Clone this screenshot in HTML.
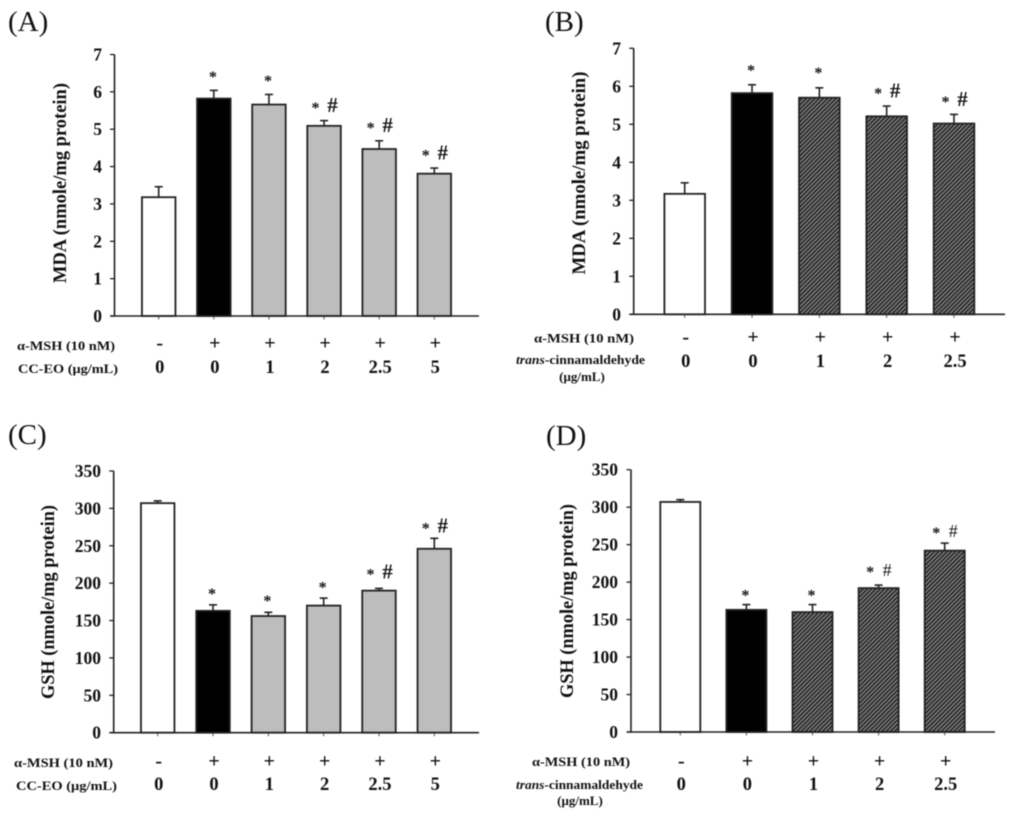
<!DOCTYPE html>
<html lang="en">
<head>
<meta charset="utf-8">
<title>MDA and GSH levels</title>
<style>
html,body{margin:0;padding:0;background:#fff;width:1024px;height:824px;overflow:hidden}
svg{display:block;filter:blur(.4px)}
text{font-family:"Liberation Serif",serif;fill:#111}
.title{font-size:29px;font-weight:400}
.ylab{font-size:18.5px;font-weight:700}
.row{font-size:13px;font-weight:700}
</style>
</head>
<body>
<svg id="figure" xmlns="http://www.w3.org/2000/svg" width="1024" height="824" viewBox="0 0 1024 824">
<defs>
<pattern id="hatch" patternUnits="userSpaceOnUse" width="3" height="3" patternTransform="rotate(-45)">
<rect width="3" height="3" fill="#858585"/>
<rect width="3" height="1.6" fill="#222"/>
</pattern>
</defs>
<rect width="1024" height="824" fill="#fff"/>

<text class="title" x="8" y="31">(A)</text>
<text class="title" x="545" y="31">(B)</text>
<text class="title" x="8" y="444">(C)</text>
<text class="title" x="546" y="445">(D)</text>

<text class="ylab" transform="translate(66,183) rotate(-90)" text-anchor="middle" textLength="200" lengthAdjust="spacingAndGlyphs">MDA (nmole/mg protein)</text>
<text class="ylab" transform="translate(585,173) rotate(-90)" text-anchor="middle" textLength="203" lengthAdjust="spacingAndGlyphs">MDA (nmole/mg protein)</text>
<text class="ylab" transform="translate(54,602) rotate(-90)" text-anchor="middle" textLength="194" lengthAdjust="spacingAndGlyphs">GSH (nmole/mg protein)</text>
<text class="ylab" transform="translate(573,601) rotate(-90)" text-anchor="middle" textLength="194" lengthAdjust="spacingAndGlyphs">GSH (nmole/mg protein)</text>

<text class="row" x="17" y="350" textLength="98" lengthAdjust="spacingAndGlyphs">α-MSH (10 nM)</text>
<text class="row" x="18" y="373" textLength="100" lengthAdjust="spacingAndGlyphs">CC-EO (μg/mL)</text>

<text class="row" x="534" y="342.5" textLength="100" lengthAdjust="spacingAndGlyphs">α-MSH (10 nM)</text>
<text class="row" x="516" y="364" textLength="129" lengthAdjust="spacingAndGlyphs"><tspan font-style="italic">trans</tspan>-cinnamaldehyde</text>
<text class="row" x="582" y="381" text-anchor="middle">(μg/mL)</text>

<text class="row" x="14" y="767" textLength="99" lengthAdjust="spacingAndGlyphs">α-MSH (10 nM)</text>
<text class="row" x="16" y="790" textLength="101" lengthAdjust="spacingAndGlyphs">CC-EO (μg/mL)</text>

<text class="row" x="532" y="766" textLength="98" lengthAdjust="spacingAndGlyphs">α-MSH (10 nM)</text>
<text class="row" x="516" y="789" textLength="127" lengthAdjust="spacingAndGlyphs"><tspan font-style="italic">trans</tspan>-cinnamaldehyde</text>
<text class="row" x="580" y="805" text-anchor="middle">(μg/mL)</text>
</svg>

<script>
// Panel A data
const valuesA = [3.18, 5.82, 5.66, 5.09, 4.47, 3.81];
const errorTopsA = [3.46, 6.04, 5.93, 5.23, 4.69, 3.96];
const starLevelsA = [null, 6.45, 6.34, 5.62, 5.08, 4.35];
const hashFlagsA = [false, false, false, true, true, true];
const mshA = ["-", "+", "+", "+", "+", "+"];
const doseA = ["0", "0", "1", "2", "2.5", "5"];
const ticksA = [0, 1, 2, 3, 4, 5, 6, 7];

// Panel B data
const valuesB = [3.17, 5.82, 5.7, 5.21, 5.02];
const errorTopsB = [3.46, 6.04, 5.96, 5.48, 5.26];
const starLevelsB = [null, 6.47, 6.4, 5.86, 5.64];
const hashFlagsB = [false, false, false, true, true];
const mshB = ["-", "+", "+", "+", "+"];
const doseB = ["0", "0", "1", "2", "2.5"];
const ticksB = [0, 1, 2, 3, 4, 5, 6, 7];

// Panel C data
const valuesC = [307, 163, 156, 170, 190, 246];
const errorTopsC = [310, 171, 161, 180, 193, 260];
const starLevelsC = [null, 188, 179, 197, 214, 276];
const hashFlagsC = [false, false, false, false, true, true];
const mshC = ["-", "+", "+", "+", "+", "+"];
const doseC = ["0", "0", "1", "2", "2.5", "5"];
const ticksC = [0, 50, 100, 150, 200, 250, 300, 350];

// Panel D data
const valuesD = [307, 163, 160, 192, 242];
const errorTopsD = [310, 170, 170, 196, 252];
const starLevelsD = [null, 185, 185, 216, 268];
const hashFlagsD = [false, false, false, true, true];
const mshD = ["-", "+", "+", "+", "+"];
const doseD = ["0", "0", "1", "2", "2.5"];
const ticksD = [0, 50, 100, 150, 200, 250, 300, 350];

const NS = "http://www.w3.org/2000/svg";
const figure = document.getElementById("figure");

function make(tag, attrs, parent) {
  const el = document.createElementNS(NS, tag);
  for (const k in attrs) el.setAttribute(k, attrs[k]);
  parent.appendChild(el);
  return el;
}

function drawPanel(p) {
  const g = make("g", {}, figure);
  
  

  const yMax = p.ticks[p.ticks.length - 1];
  const yScale = v => p.y0 - (v / yMax) * (p.y0 - p.yTop);
  const n = p.values.length;
  const xScale = i => p.xFirst + i * (p.xLast - p.xFirst) / (n - 1);

  p.values.forEach((v, i) => {
    const cx = xScale(i);
    const stem = make("line", { x1: cx, x2: cx, y1: yScale(v), y2: yScale(p.errorTops[i]), stroke: "#222", "stroke-width": 1.6 }, g);
    
    
    const cap = make("line", { x1: cx - 4, x2: cx + 4, y1: yScale(p.errorTops[i]), y2: yScale(p.errorTops[i]), stroke: "#222", "stroke-width": 1.6 }, g);
    
    

    const fill = i === 0 ? "#fff" : i === 1 ? "#000" : p.fill;
    const bar = make("rect", { x: cx - p.barW / 2, y: yScale(v), width: p.barW, height: p.y0 - yScale(v), fill: fill, stroke: "#222", "stroke-width": 1.8 }, g);
    
    

    const tick = make("line", { x1: cx, x2: cx, y1: p.y0, y2: p.y0 + 3.5, stroke: "#555", "stroke-width": 1 }, g);
    
    

    const msh = make("text", { x: cx + 1, y: p.mshY + 6.5, "text-anchor": "middle", "font-size": 20, "font-weight": 700 }, g);
    msh.textContent = p.msh[i];
    
    

    const dose = make("text", { x: cx + 1, y: p.doseY, "text-anchor": "middle", "font-size": 18.5, "font-weight": 700 }, g);
    dose.textContent = p.dose[i];
    
    

    if (p.starLevels[i] !== null) {
      const hasHash = p.hashFlags[i];
      const star = make("text", { x: cx + (hasHash ? -8.5 : -1), y: yScale(p.starLevels[i]) + 7, "text-anchor": "middle", "font-size": 16, "font-weight": 700 }, g);
      star.textContent = "*";
      
      
      if (hasHash) {
        const hash = make("text", { x: cx + 8.5, y: yScale(p.starLevels[i]) + 6, "text-anchor": "middle", "font-size": p.hashSize, "font-weight": p.hashWeight }, g);
        hash.textContent = "#";
        
        
      }
    }
  });

  const yAxis = make("line", { x1: p.xAxis, x2: p.xAxis, y1: p.yTop, y2: p.y0, stroke: "#222", "stroke-width": 1.6 }, g);
  
  
  const xAxis = make("line", { x1: p.xAxis - 4, x2: p.xRight, y1: p.y0, y2: p.y0, stroke: "#222", "stroke-width": 1.6 }, g);
  
  

  p.ticks.forEach(t => {
    const y = yScale(t);
    const tick = make("line", { x1: p.xAxis - 4.5, x2: p.xAxis, y1: y, y2: y, stroke: "#222", "stroke-width": 1.3 }, g);
    
    
    const label = make("text", { x: p.labelRight, y: y + 6, "text-anchor": "end", "font-size": 17.5, "font-weight": 700 }, g);
    label.textContent = String(t);
    
    
  });
}

drawPanel({ values: valuesA, errorTops: errorTopsA, starLevels: starLevelsA, hashFlags: hashFlagsA, msh: mshA, dose: doseA, ticks: ticksA,
  xAxis: 114.5, xRight: 479, y0: 316, yTop: 54.5, xFirst: 158.7, xLast: 434.3, barW: 33.5, fill: "#bdbdbd",
  mshY: 343, doseY: 373, labelRight: 102, hashSize: 21, hashWeight: 700 });
drawPanel({ values: valuesB, errorTops: errorTopsB, starLevels: starLevelsB, hashFlags: hashFlagsB, msh: mshB, dose: doseB, ticks: ticksB,
  xAxis: 633.7, xRight: 1005, y0: 314.3, yTop: 48.3, xFirst: 684.7, xLast: 954, barW: 40.6, fill: "url(#hatch)",
  mshY: 337, doseY: 367, labelRight: 621, hashSize: 21, hashWeight: 700 });
drawPanel({ values: valuesC, errorTops: errorTopsC, starLevels: starLevelsC, hashFlags: hashFlagsC, msh: mshC, dose: doseC, ticks: ticksC,
  xAxis: 113.7, xRight: 479, y0: 732.7, yTop: 471, xFirst: 157.7, xLast: 434.3, barW: 33.5, fill: "#bdbdbd",
  mshY: 761, doseY: 790, labelRight: 101, hashSize: 21, hashWeight: 700 });
drawPanel({ values: valuesD, errorTops: errorTopsD, starLevels: starLevelsD, hashFlags: hashFlagsD, msh: mshD, dose: doseD, ticks: ticksD,
  xAxis: 631, xRight: 995, y0: 732, yTop: 469.7, xFirst: 680.3, xLast: 944.7, barW: 40, fill: "url(#hatch)",
  mshY: 761, doseY: 790, labelRight: 618, hashSize: 18, hashWeight: 400 });
</script>
</body>
</html>
